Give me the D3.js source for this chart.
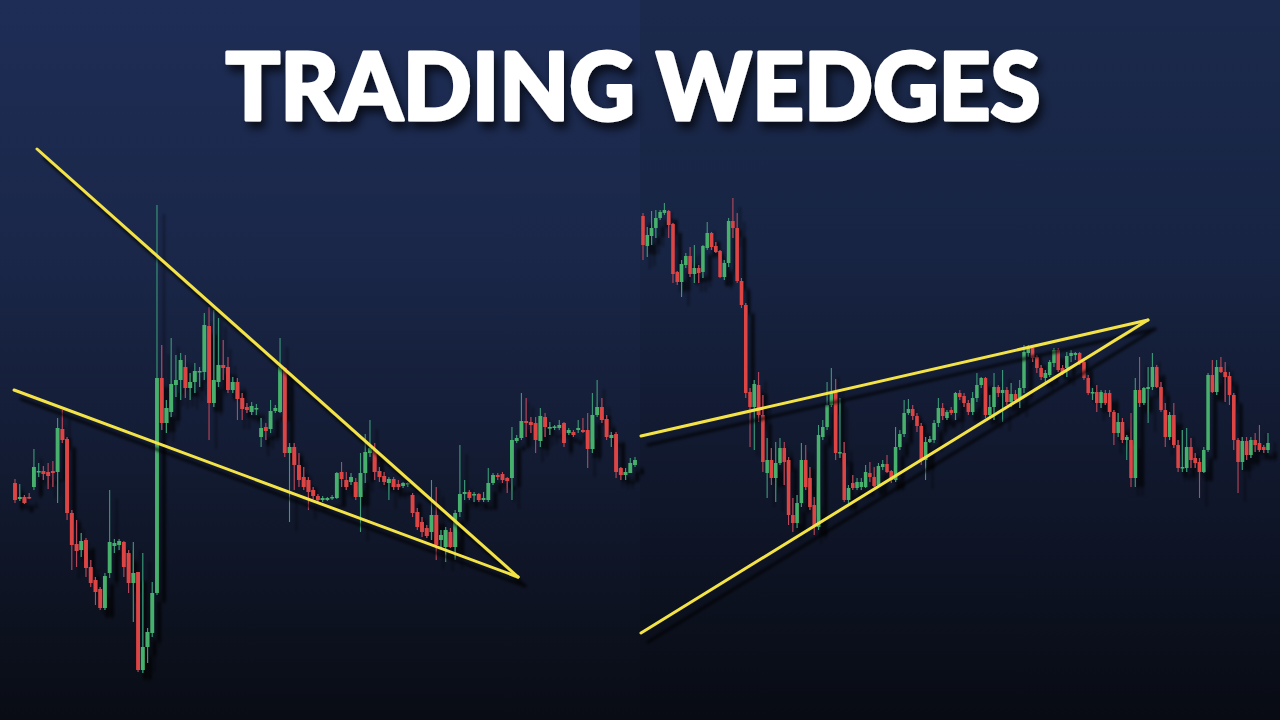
<!DOCTYPE html>
<html>
<head>
<meta charset="utf-8">
<script src="https://cdn.jsdelivr.net/npm/d3@7"></script>
<style>
html,body{margin:0;padding:0;background:#0b0e17;}
svg{display:block;}
</style>
</head>
<body>
<svg id="chart" width="1280" height="720"></svg>
<script>
// ---------- DATA ----------
const titleText = "TRADING WEDGES";

// Left panel candles: [open, high, low, close]
const leftCandles = [
[237,241,217,220],[221,236,219,223],[223,225,216,217],[223,227,221,222],[233,271,230,253],
[248,257,243,249],[249,254,240,246],[248,257,231,244],[249,259,233,247],[248,302,217,292],
[291,310,277,280],[281,283,200,207],[207,210,150,175],[176,200,153,169],[170,187,163,179],
[180,182,143,152],[153,160,133,137],[140,143,115,128],[131,133,110,112],[112,147,110,144],
[147,230,142,178],[174,181,167,177],[175,181,170,179],[178,179,143,153],[167,170,127,137],
[137,178,98,147],[148,148,48,50],[50,167,47,73],[73,92,57,88],[87,138,83,127],
[127,515,125,342],[342,375,290,297],[297,320,287,312],[308,382,303,336],[335,365,323,340],
[340,367,320,360],[353,365,322,332],[332,347,320,338],[338,357,327,349],[348,353,333,349],
[348,407,340,395],[394,413,280,317],[317,410,313,340],[338,402,333,355],[355,380,340,352],
[353,363,327,330],[330,343,327,338],[338,342,300,321],[322,327,300,311],[313,317,307,310],
[308,318,305,314],[311,316,305,312],[283,302,273,292],[293,297,280,289],[291,320,287,309],
[309,315,307,312],[308,382,307,353],[352,353,263,267],[267,277,198,273],[273,277,230,255],
[255,267,233,240],[243,253,230,233],[240,243,210,228],[230,233,221,224],[224,226,218,220],
[220,224,218,222],[220,223,219,222],[222,225,220,223],[222,248,221,247],[248,258,233,241],
[240,248,230,233],[238,247,235,243],[238,242,220,223],[223,267,188,247],[247,286,237,268],
[267,300,263,272],[270,277,240,248],[249,253,238,243],[244,248,235,238],[237,243,220,241],
[241,243,230,233],[236,240,230,233],[234,238,232,237],[237,238,233,237],[225,227,203,207],
[208,212,190,193],[198,203,183,188],[192,195,182,184],[188,240,180,205],[205,233,160,175],
[180,190,172,185],[173,193,158,190],[188,192,172,173],[173,210,160,207],[208,275,203,226],
[226,240,220,228],[228,230,220,222],[225,228,218,226],[226,227,218,220],[220,228,218,222],
[220,252,218,237],[237,247,235,245],[245,247,240,243],[246,248,237,240],[242,243,227,239],
[242,293,220,280],[279,285,277,282],[282,327,280,299],[299,322,283,297],[298,303,287,295],
[297,303,267,280],[279,312,273,304],[303,307,283,293],[292,298,285,293],[293,295,290,293.5],
[292,300,290,295],[297,298,273,277],[287,292,285,290],[288,290,283,285],[290,300,287,292],
[290,302,287,288],[290,307,252,271],[271,327,267,305],[305,340,303,313],[313,322,297,300],
[301,305,280,283],[282,288,273,285],[286,288,242,248],[252,253,240,245],[245,252,240,248],
[247,262,247,257],[255,263,253,260]
];

// Right panel candles: [open, high, low, close]
const rightCandles = [
[504,507,460,475],[474,493,463,485],[484,509,475,492],[492,510,482,502],[502,510,500,508],
[507,517,505,510],[509,510,482,495],[496,497,437,446],[448,449,435,438],[438,460,423,456],
[455,467,452,464],[464,473,443,446],[446,475,437,452],[452,455,437,447],[448,475,442,474],
[472,498,470,487],[487,488,470,473],[474,478,467,468],[469,470,442,443],[443,460,440,457],
[457,502,453,499],[499,522,482,492],[492,507,437,439],[439,442,412,415],[415,417,322,327],
[328,332,273,313],[313,340,270,336],[335,348,298,305],[305,325,248,258],[247,282,222,260],
[260,272,235,242],[242,278,218,257],[257,282,255,272],[272,278,235,258],[260,263,195,205],
[205,222,188,197],[197,225,192,217],[217,277,213,260],[260,275,230,233],[242,253,210,213],
[215,223,185,194],[193,295,190,285],[283,300,280,293],[293,338,290,315],[315,352,313,327],
[328,341,260,267],[267,322,262,268],[267,278,218,220],[220,235,217,232],[237,245,230,232],
[232,242,230,238],[233,242,230,238],[233,255,232,248],[247,258,238,243],[243,253,233,234],
[235,257,233,254],[253,260,250,256],[256,265,247,248],[249,250,237,240],[240,293,238,273],
[273,290,270,286],[286,320,283,307],[307,321,305,311],[311,315,300,304],[304,307,288,294],
[294,297,255,260],[260,283,240,278],[278,284,277,281],[280,300,277,297],[297,322,293,312],
[312,317,300,304],[302,310,300,308],[310,313,305,307],[307,328,300,327],[327,330,320,323],
[324,327,313,317],[317,320,305,308],[308,328,305,322],[322,347,318,335],[335,343,332,342],
[342,343,302,305],[305,325,302,313],[313,347,300,333],[333,335,323,327],[327,350,298,330],
[330,333,315,318],[318,337,313,326],[326,330,317,320],[322,340,312,332],[332,375,327,368],
[367,375,363,373],[372,375,358,362],[363,365,347,352],[352,355,340,343],[342,350,338,347],
[345,360,343,358],[357,372,353,370],[370,372,348,350],[352,355,345,348],[352,368,343,364],
[364,370,358,367],[365,368,360,367],[367,368,355,358],[358,360,340,342],[342,345,325,327],
[327,332,320,328],[328,335,308,317],[317,330,312,328],[327,330,315,317],[327,330,303,308],
[308,310,275,287],[287,307,283,298],[298,302,277,280],[280,285,260,283],[280,307,233,242],
[242,342,233,330],[330,363,313,317],[317,333,315,332],[331,353,297,333],[333,367,330,353],
[353,355,332,333],[333,338,308,310],[310,317,273,283],[283,308,280,305],[305,317,272,275],
[275,280,248,252],[252,290,248,253],[252,292,248,273],[273,282,252,260],[262,267,252,257],
[258,262,222,248],[248,273,247,270],[270,347,268,345],[345,360,327,328],[328,360,325,353],
[353,363,347,348],[348,358,318,343],[344,348,315,325],[325,327,270,280],[280,282,227,258],
[258,283,250,279],[279,283,260,265],[265,283,262,280],[280,287,268,275],[277,295,268,270],
[273,275,267,270],[270,287,267,277]
];

// Trendlines: [[index, price], [index, price]]
const leftTrendlines = [
  [[4.65, 571], [106.3, 143]],
  [[-0.2, 330], [106.3, 143]]
];
const rightTrendlines = [
  [[-0.47, 284], [117.96, 400]],
  [[-0.47, 87], [117.96, 400]]
];

// ---------- DRAW ----------
const svg = d3.select("#chart");
const W = 1280, H = 720;
const defs = svg.append("defs");

function grad(id, stops) {
  const g = defs.append("linearGradient").attr("id", id)
    .attr("x1", 0).attr("y1", 0).attr("x2", 0).attr("y2", 1);
  stops.forEach(s => g.append("stop").attr("offset", s[0]).attr("stop-color", s[1]));
}
grad("bgL", [[0, "#1e2d56"], [0.35, "#1a2749"], [0.6, "#141d36"], [1, "#090c14"]]);
grad("bgR", [[0, "#1b294c"], [0.35, "#172443"], [0.6, "#121a31"], [1, "#080b13"]]);

const sh = defs.append("filter").attr("id", "shadow")
  .attr("x", "-20%").attr("y", "-20%").attr("width", "140%").attr("height", "140%");
sh.append("feDropShadow").attr("dx", 7).attr("dy", 9).attr("stdDeviation", 1.8)
  .attr("flood-color", "#000").attr("flood-opacity", 0.75);

const tsh = defs.append("filter").attr("id", "tshadow")
  .attr("x", "-10%").attr("y", "-30%").attr("width", "120%").attr("height", "160%");
tsh.append("feDropShadow").attr("dx", 4).attr("dy", 7).attr("stdDeviation", 4)
  .attr("flood-color", "#000").attr("flood-opacity", 0.65);

svg.append("rect").attr("x", 0).attr("y", 0).attr("width", 640).attr("height", H).attr("fill", "url(#bgL)");
svg.append("rect").attr("x", 640).attr("y", 0).attr("width", 640).attr("height", H).attr("fill", "url(#bgR)");

const y = d3.scaleLinear().domain([0, 720]).range([720, 0]);

const UP = "#46b06c", DOWN = "#dd4545";
const UPW = "#3c9a78", DOWNW = "#b8485a";

function drawPanel(data, lines, x0, x1) {
  const x = d3.scaleLinear().domain([0, data.length - 1]).range([x0, x1]);
  const step = (x1 - x0) / (data.length - 1);
  const bw = Math.max(2, step * 0.82);
  const g = svg.append("g").attr("filter", "url(#shadow)");
  const c = g.selectAll("g.c").data(data).join("g").attr("class", "c");
  c.append("line")
    .attr("x1", (d, i) => x(i)).attr("x2", (d, i) => x(i))
    .attr("y1", d => y(d[1])).attr("y2", d => y(d[2]))
    .attr("stroke", d => d[3] >= d[0] ? UPW : DOWNW)
    .attr("stroke-width", 1.1);
  c.append("rect")
    .attr("x", (d, i) => x(i) - bw / 2)
    .attr("width", bw)
    .attr("y", d => y(Math.max(d[0], d[3])))
    .attr("height", d => Math.max(1.5, Math.abs(y(d[0]) - y(d[3]))))
    .attr("fill", d => d[3] >= d[0] ? UP : DOWN);

  const lg = svg.append("g").attr("filter", "url(#shadow)");
  lg.selectAll("line").data(lines).join("line")
    .attr("x1", d => x(d[0][0])).attr("y1", d => y(d[0][1]))
    .attr("x2", d => x(d[1][0])).attr("y2", d => y(d[1][1]))
    .attr("stroke", "#f4e347").attr("stroke-width", 3).attr("stroke-linecap", "round");
}

drawPanel(leftCandles, leftTrendlines, 15, 635);
drawPanel(rightCandles, rightTrendlines, 643, 1268);

svg.append("text")
  .attr("x", 633).attr("y", 120)
  .attr("text-anchor", "middle")
  .attr("font-family", "Lato, Roboto, 'Open Sans', sans-serif")
  .attr("font-weight", 900)
  .attr("font-size", 93)
  .attr("fill", "#ffffff")
  .attr("stroke", "#ffffff")
  .attr("stroke-width", 3)
  .attr("stroke-linejoin", "round")
  .attr("textLength", 815)
  .attr("lengthAdjust", "spacingAndGlyphs")
  .attr("filter", "url(#tshadow)")
  .text(titleText);
</script>
</body>
</html>
